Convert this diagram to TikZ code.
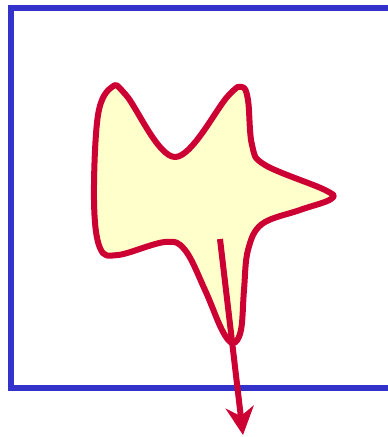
\documentclass[tikz,border=0pt]{standalone}
\usetikzlibrary{arrows.meta}
\definecolor{frameblue}{HTML}{3333CC}
\definecolor{blobred}{HTML}{CC0033}
\definecolor{blobfill}{HTML}{FFFFCC}
\begin{document}
\begin{tikzpicture}[x=1pt,y=-1pt,
  framestyle/.style={draw=frameblue,line width=6pt},
  blobstyle/.style={draw=blobred,fill=blobfill,line width=6pt,line join=round},
  arrowstyle/.style={draw=blobred,line width=6pt,-{Stealth[length=28pt,width=28pt,inset=9pt]}}]
\useasboundingbox (0,0) rectangle (388,437);
\clip (0,0) rectangle (388,437);
\draw[framestyle] (400,7.5) -- (10.5,7.5) -- (10.5,388) -- (400,388);
\draw[blobstyle] plot[smooth cycle,tension=0.6] coordinates {
 (112,87) (98,115) (94,200) (100,248) (118,255) (165,242) (185,250)
 (205,290) (222,330) (233,343) (241,330) (244,290) (248,250) (262,224)
 (300,210) (331,199) (325,190) (265,165) (252,145) (248,100) (242,87)
 (228,96) (175,157) (126,95)};
\coordinate (s) at (220,239);
\coordinate (t) at (243,435);
\draw[arrowstyle] (s) -- (t);
\end{tikzpicture}
\end{document}
